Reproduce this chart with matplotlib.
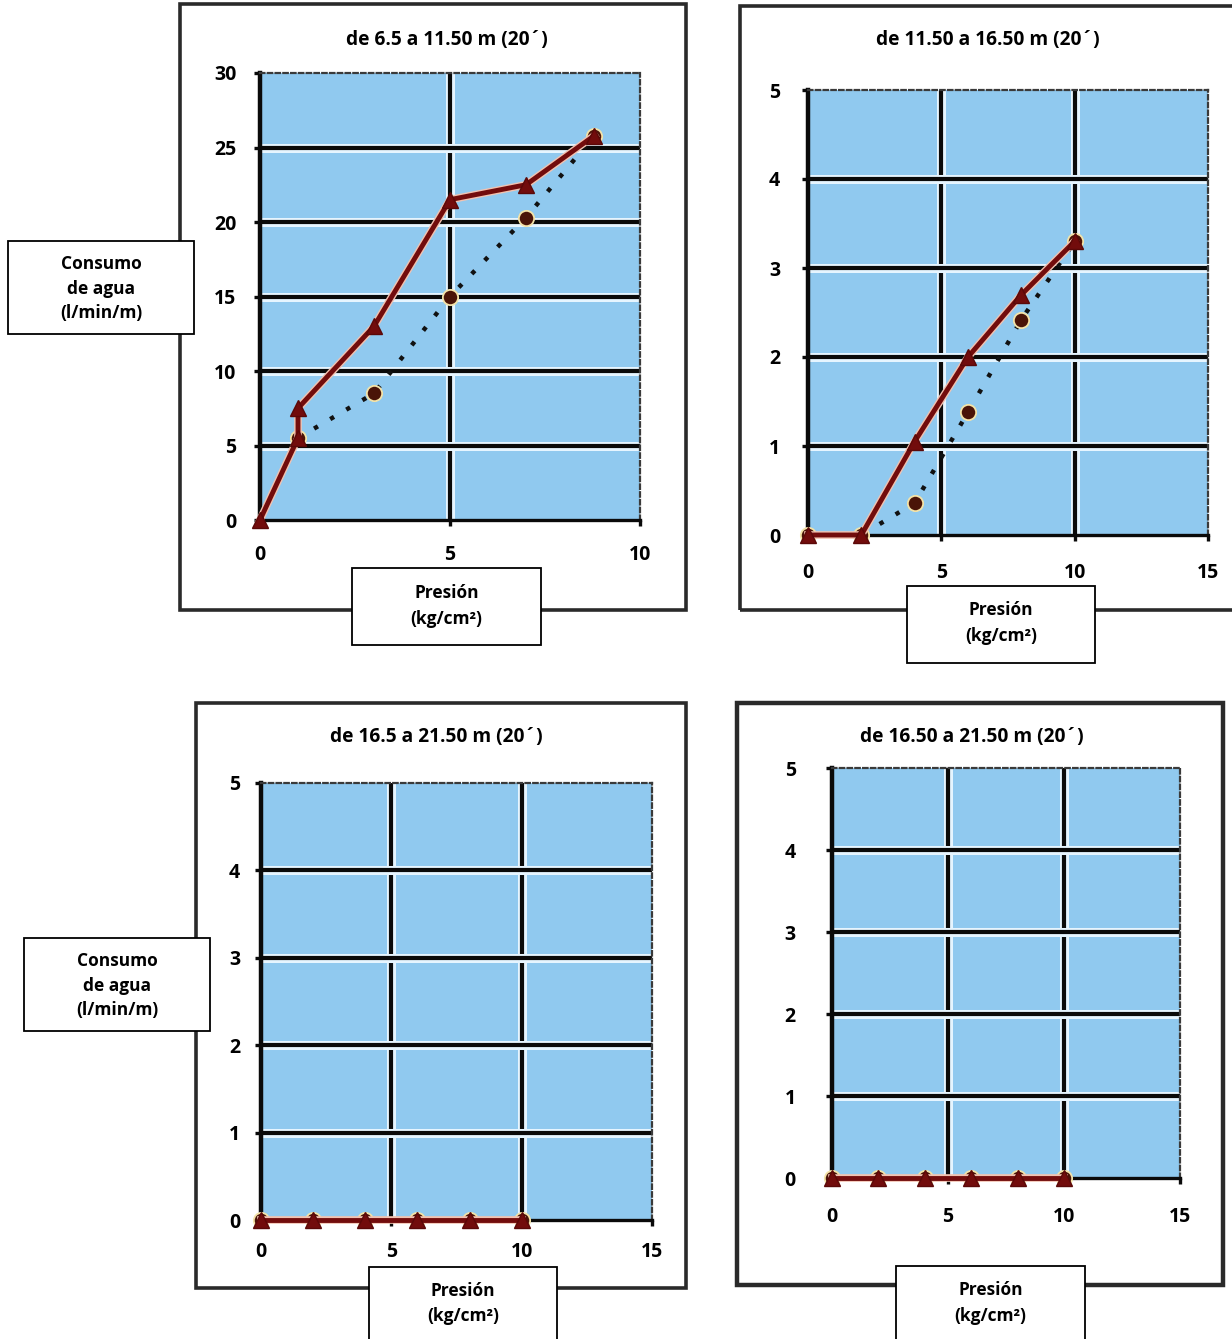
import matplotlib
matplotlib.use('Agg')
import matplotlib.pyplot as plt
from matplotlib.patches import Rectangle
import matplotlib.patheffects as pe

W, H = 1232, 1339
plt.rcParams['font.family'] = ['Open Sans', 'DejaVu Sans']
plt.rcParams['font.weight'] = 'bold'

# ---------------- data ----------------
titles = ["de 6.5 a 11.50 m (20´)", "de 11.50 a 16.50 m (20´)",
          "de 16.5 a 21.50 m (20´)", "de 16.50 a 21.50 m (20´)"]
ylabel_text = "Consumo\nde agua\n(l/min/m)"
xlabel_text = "Presión\n(kg/cm²)"

p1_xticks = [0, 5, 10]
p1_yticks = [0, 5, 10, 15, 20, 25, 30]
p1_solid_x = [0, 1, 1, 3, 5, 7, 8.8]
p1_solid_y = [0, 5.5, 7.5, 13, 21.5, 22.5, 25.8]
p1_dot_x = [1, 3, 5, 7, 8.8]
p1_dot_y = [5.5, 8.5, 15, 20.3, 25.8]

p2_xticks = [0, 5, 10, 15]
p2_yticks = [0, 1, 2, 3, 4, 5]
p2_solid_x = [0, 2, 4, 6, 8, 10]
p2_solid_y = [0, 0, 1.05, 2.0, 2.7, 3.3]
p2_dot_x = [0, 2, 4, 6, 8, 10]
p2_dot_y = [0, 0, 0.36, 1.38, 2.42, 3.3]

p3_xticks = [0, 5, 10, 15]
p3_yticks = [0, 1, 2, 3, 4, 5]
p3_solid_x = [0, 2, 4, 6, 8, 10]
p3_solid_y = [0, 0, 0, 0, 0, 0]
p3_dot_x = [0, 2, 4, 6, 8, 10]
p3_dot_y = [0, 0, 0, 0, 0, 0]

p4_xticks = [0, 5, 10, 15]
p4_yticks = [0, 1, 2, 3, 4, 5]
p4_solid_x = [0, 2, 4, 6, 8, 10]
p4_solid_y = [0, 0, 0, 0, 0, 0]
p4_dot_x = [0, 2, 4, 6, 8, 10]
p4_dot_y = [0, 0, 0, 0, 0, 0]

# ---------------- styling ----------------
BLUE = '#90c9ef'
RED = '#720c0c'
FS = 12.5
FS_TITLE = 13.8
FS_TICK = 14

fig = plt.figure(figsize=(W / 100, H / 100), dpi=100)


def fx(x):
    return x / W


def fy(y):
    return 1 - y / H


def frame(l, t, r, b, lw=2.6):
    fig.patches.append(Rectangle((fx(l), fy(b)), fx(r) - fx(l), fy(t) - fy(b),
                                 transform=fig.transFigure, fill=False,
                                 edgecolor='#2a2a2a', lw=lw, zorder=-1))


def label_box(l, t, r, b, text, lines_y):
    fig.patches.append(Rectangle((fx(l), fy(b)), fx(r) - fx(l), fy(t) - fy(b),
                                 transform=fig.transFigure, facecolor='white',
                                 edgecolor='black', lw=1.3, zorder=5))
    cx = (l + r) / 2
    for s, yy in zip(text.split('\n'), lines_y):
        fig.text(fx(cx), fy(yy), s, ha='center', va='center', fontsize=FS,
                 fontweight='bold', zorder=6)


halo = [pe.Stroke(linewidth=6.5, foreground='#e6f5ff'), pe.Normal()]
line_halo = [pe.Stroke(linewidth=5.5, foreground='#f2c2b0'), pe.Normal()]


def panel(rect, xlim, ylim, xticks, yticks, sx, sy, dx, dy, xpad, ypad, title, title_xy):
    l, t, r, b = rect
    ax = fig.add_axes([fx(l), fy(b), fx(r) - fx(l), fy(t) - fy(b)])
    ax.set_facecolor(BLUE)
    ax.set_xlim(*xlim)
    ax.set_ylim(*ylim)
    ax.set_xticks(xticks)
    ax.set_yticks(yticks)
    ax.set_xticklabels([str(v) for v in xticks])
    ax.set_yticklabels([str(v) for v in yticks])
    for v in xticks:
        if xlim[0] < v < xlim[1]:
            ax.axvline(v, color='#0a0a0a', lw=3, path_effects=halo, zorder=1)
    for v in yticks:
        if ylim[0] < v < ylim[1]:
            ax.axhline(v, color='#0a0a0a', lw=3, path_effects=halo, zorder=1)
    for side in ('top', 'right'):
        ax.spines[side].set_linestyle((0, (2, 1.5)))
        ax.spines[side].set_linewidth(1.6)
        ax.spines[side].set_color('#3a3a3a')
    ax.spines['left'].set_linewidth(3.2)
    ax.spines['left'].set_color('#0a0a0a')
    ax.spines['bottom'].set_linewidth(2.4)
    ax.spines['bottom'].set_color('#0a0a0a')
    ax.tick_params(axis='both', length=4, width=2.4, color='#0a0a0a',
                   labelsize=FS_TICK)
    ax.tick_params(axis='x', pad=xpad)
    ax.tick_params(axis='y', pad=ypad)
    for lab in ax.get_xticklabels() + ax.get_yticklabels():
        lab.set_fontweight('bold')
    # dotted series
    ax.plot(dx, dy, color='#111111', lw=3.2, linestyle=(0, (1, 3.2)),
            marker='o', markersize=11, markerfacecolor='#4a1408',
            markeredgecolor='#f4e3a8', markeredgewidth=1.3,
            clip_on=False, zorder=3)
    # solid series
    ax.plot(sx, sy, color=RED, lw=3.5, clip_on=False, zorder=4,
            path_effects=line_halo)
    ax.plot(sx, sy, linestyle='none', marker='^', markersize=12,
            markerfacecolor=RED, markeredgecolor='#5a0808', markeredgewidth=1,
            clip_on=False, zorder=5)
    fig.text(fx(title_xy[0]), fy(title_xy[1]), title, ha='center', va='center',
             fontsize=FS_TITLE, fontweight='bold')
    return ax


# frames
frame(180, 4, 686, 610)
frame(740, 6, 1245, 610)
frame(196, 703, 686, 1288)
frame(737, 703, 1223, 1285, lw=3.2)

panel((260, 73, 640, 520), (0, 10), (0, 30), p1_xticks, p1_yticks,
      p1_solid_x, p1_solid_y, p1_dot_x, p1_dot_y, 14, 13, titles[0], (447, 40))
panel((808, 90, 1208, 535), (0, 15), (0, 5), p2_xticks, p2_yticks,
      p2_solid_x, p2_solid_y, p2_dot_x, p2_dot_y, 16, 16, titles[1], (988, 40))
panel((261, 783, 652, 1220), (0, 15), (0, 5), p3_xticks, p3_yticks,
      p3_solid_x, p3_solid_y, p3_dot_x, p3_dot_y, 12, 11, titles[2], (436, 737))
panel((832, 768, 1180, 1178), (0, 15), (0, 5), p4_xticks, p4_yticks,
      p4_solid_x, p4_solid_y, p4_dot_x, p4_dot_y, 17, 22, titles[3], (972, 737))

# label boxes
label_box(8, 241, 194, 334, ylabel_text, (264, 289, 313))
label_box(24, 938, 210, 1031, ylabel_text, (961, 986, 1010))
label_box(352, 568, 541, 645, xlabel_text, (593, 619))
label_box(907, 586, 1095, 663, xlabel_text, (610, 636))
label_box(369, 1267, 557, 1350, xlabel_text, (1291, 1316))
label_box(896, 1266, 1085, 1350, xlabel_text, (1290, 1316))

fig.savefig('out.png', dpi=100, facecolor='white')
